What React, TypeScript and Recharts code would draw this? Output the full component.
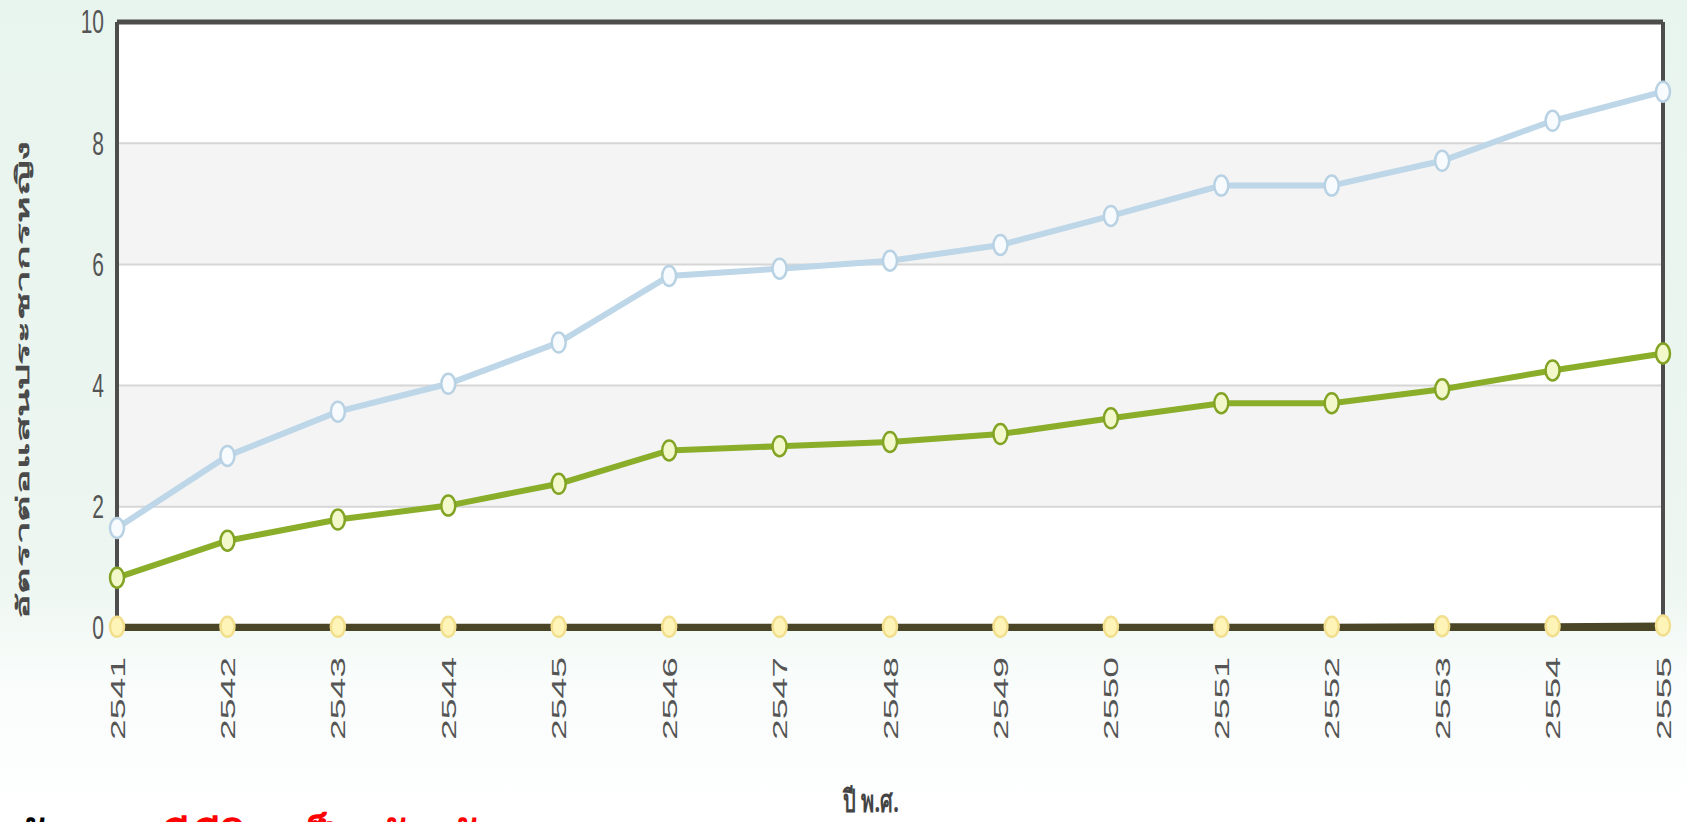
import React from "react";
import {
  LineChart,
  Line,
  XAxis,
  YAxis,
  ReferenceArea,
  ReferenceLine,
} from "recharts";

const years = ["2541","2542","2543","2544","2545","2546","2547","2548","2549","2550","2551","2552","2553","2554","2555"];
const blueValues = [1.65, 2.84, 3.57, 4.03, 4.71, 5.81, 5.93, 6.06, 6.32, 6.8, 7.3, 7.3, 7.71, 8.37, 8.85];
const greenValues = [0.83, 1.44, 1.79, 2.02, 2.38, 2.93, 3.0, 3.07, 3.2, 3.46, 3.71, 3.71, 3.94, 4.25, 4.53];
const yellowValues = [0.02, 0.02, 0.02, 0.02, 0.02, 0.02, 0.02, 0.02, 0.02, 0.02, 0.02, 0.02, 0.03, 0.03, 0.04];
const yTicks = [0, 2, 4, 6, 8, 10];
const yAxisTitle = "อัตราต่อแสนประชากรหญิง";
const xAxisTitle = "ปี พ.ศ.";
const captionBlack = "ดังภาพ";
const captionRed = "มีชีวิต เป็น กัน กัน";

const data = years.map((y, i) => ({
  year: y,
  blue: blueValues[i],
  green: greenValues[i],
  yellow: yellowValues[i],
}));

const W = 1687;
const H = 822;

const makeDot = (fill: string, stroke: string) => (props: any) => {
  const { cx, cy, index } = props;
  if (cx == null || cy == null) return <g key={index} />;
  return (
    <ellipse
      key={index}
      cx={cx}
      cy={cy}
      rx={7}
      ry={10}
      fill={fill}
      stroke={stroke}
      strokeWidth={2.5}
    />
  );
};

const YTick = (props: any) => {
  const { x, y, payload } = props;
  return (
    <g transform={`translate(${x - 13},${y})`}>
      <text
        x={0}
        y={0}
        textAnchor="end"
        dominantBaseline="central"
        transform="scale(1,1.6)"
        fontFamily="Liberation Sans, Arial, sans-serif"
        fontSize={21}
        fill="#555"
      >
        {payload.value}
      </text>
    </g>
  );
};

const XTick = (props: any) => {
  const { x, payload } = props;
  return (
    <g transform={`translate(${x},${657}) rotate(-90)`}>
      <text
        x={0}
        y={0}
        textAnchor="end"
        dominantBaseline="central"
        textLength={83}
        lengthAdjust="spacingAndGlyphs"
        fontFamily="Liberation Sans, Arial, sans-serif"
        fontSize={21}
        fill="#555"
      >
        {payload.value}
      </text>
    </g>
  );
};

export default function App() {
  return (
    <div
      style={{
        position: "fixed",
        left: 0,
        top: 0,
        width: W,
        height: H,
        overflow: "hidden",
        background:
          "linear-gradient(to bottom, #e8f4ee 0%, #edf6f1 70%, #f8fcfa 82%, #ffffff 100%)",
      }}
    >
      <LineChart
        width={W}
        height={H}
        data={data}
        margin={{ top: 22, right: 24, left: 0, bottom: 0 }}
      >
        <ReferenceArea y1={0} y2={10} fill="#ffffff" fillOpacity={1} stroke="none" />
        <ReferenceArea y1={2} y2={4} fill="#f4f4f4" fillOpacity={1} stroke="none" />
        <ReferenceArea y1={6} y2={8} fill="#f4f4f4" fillOpacity={1} stroke="none" />
        <ReferenceLine y={2} stroke="#d6d6d6" strokeWidth={2} />
        <ReferenceLine y={4} stroke="#d6d6d6" strokeWidth={2} />
        <ReferenceLine y={6} stroke="#d6d6d6" strokeWidth={2} />
        <ReferenceLine y={8} stroke="#d6d6d6" strokeWidth={2} />
        <ReferenceLine y={10} stroke="#4d4d4d" strokeWidth={5} />
        <ReferenceLine x="2555" stroke="#4d4d4d" strokeWidth={4} />
        <XAxis
          dataKey="year"
          height={194}
          interval={0}
          tick={<XTick />}
          tickLine={false}
          axisLine={{ stroke: "#4a4527", strokeWidth: 6 }}
        />
        <YAxis
          width={117}
          domain={[0, 10]}
          ticks={yTicks}
          tick={<YTick />}
          tickSize={0}
          tickMargin={0}
          tickLine={false}
          axisLine={{ stroke: "#4d4d4d", strokeWidth: 4 }}
          interval={0}
        />
        <Line
          type="linear"
          dataKey="yellow"
          stroke="#4a4527"
          strokeWidth={6}
          dot={makeDot("#fff4b8", "#f2df8e")}
          isAnimationActive={false}
        />
        <Line
          type="linear"
          dataKey="blue"
          stroke="#bdd6e8"
          strokeWidth={6}
          dot={makeDot("#f7fbfd", "#b8d2e4")}
          isAnimationActive={false}
        />
        <Line
          type="linear"
          dataKey="green"
          stroke="#8aae2a"
          strokeWidth={6}
          dot={makeDot("#f2f8c9", "#82a324")}
          isAnimationActive={false}
        />
      </LineChart>
      <svg
        width={W}
        height={H}
        style={{ position: "absolute", left: 0, top: 0, pointerEvents: "none" }}
      >
        <g transform="translate(22,380) rotate(-90)">
          <text
            x={0}
            y={0}
            textAnchor="middle"
            dominantBaseline="central"
            textLength={478}
            lengthAdjust="spacingAndGlyphs"
            fontFamily="Noto Sans, sans-serif"
            fontWeight="bold"
            fontSize={18}
            fill="#4a4a4a"
          >
            {yAxisTitle}
          </text>
        </g>
        <g transform="translate(871,812)">
          <text
            x={0}
            y={0}
            textAnchor="middle"
            transform="scale(1,1.55)"
            fontFamily="Noto Sans, sans-serif"
            fontWeight="bold"
            fontSize={20}
            fill="#444"
          >
            {xAxisTitle}
          </text>
        </g>
        <text
          x={14}
          y={855}
          fontFamily="Noto Sans, sans-serif"
          fontWeight="bold"
          fontSize={46}
          fill="#000"
        >
          {captionBlack}
        </text>
        <text
          x={160}
          y={855}
          fontFamily="Noto Sans, sans-serif"
          fontWeight="bold"
          fontSize={46}
          fill="#ff0000"
        >
          {captionRed}
        </text>
      </svg>
    </div>
  );
}
